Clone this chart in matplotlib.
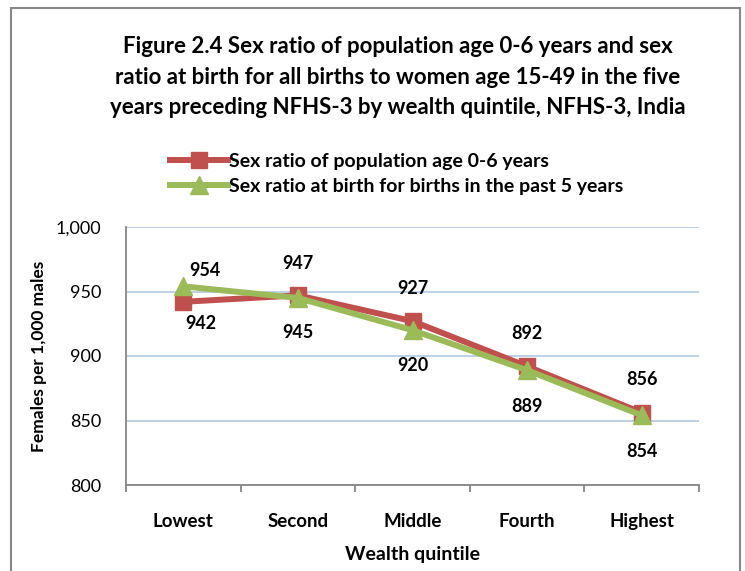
import matplotlib
matplotlib.use("Agg")
import matplotlib.pyplot as plt
from matplotlib.patches import Rectangle

categories = ["Lowest", "Second", "Middle", "Fourth", "Highest"]
pop_0_6 = [942, 947, 927, 892, 856]
at_birth = [954, 945, 920, 889, 854]
series_names = ["Sex ratio of population age 0-6 years",
                "Sex ratio at birth for births in the past 5 years"]
yticks = [800, 850, 900, 950, 1000]
ytick_labels = ["800", "850", "900", "950", "1,000"]

plt.rcParams['font.family'] = ['Lato', 'DejaVu Sans']

W, H = 745, 571
fig = plt.figure(figsize=(W / 100, H / 100), dpi=100)

# chart area border
fig.patches.append(Rectangle((11 / W, 1 - 575 / H), (740 - 11) / W, (575 - 8) / H,
                             transform=fig.transFigure, fill=False,
                             edgecolor="#878787", linewidth=1.5))

ax = fig.add_axes([126 / W, 1 - 485 / H, (699 - 126) / W, (485 - 227) / H])

red = "#C0504D"
green = "#9BBB59"
x = list(range(len(categories)))
ax.plot(x, pop_0_6, color=red, lw=4.3, marker="s", ms=12, zorder=3,
        label=series_names[0])
ax.plot(x, at_birth, color=green, lw=4.3, marker="^", ms=13, zorder=4,
        label=series_names[1])

ax.set_xlim(-0.5, len(categories) - 0.5)
ax.set_ylim(800, 1000)
ax.set_yticks(yticks)
ax.set_yticklabels(ytick_labels, fontsize=13)
ax.yaxis.grid(True, color="#B9CDE5", lw=1.3)
ax.set_axisbelow(True)
ax.tick_params(axis="y", length=0, pad=18)

ax.set_xticks([i - 0.5 for i in range(len(categories) + 1)], minor=False)
ax.set_xticklabels([])
ax.set_xticks(x, minor=True)
ax.set_xticklabels(categories, minor=True, fontsize=13.5, fontweight="bold")
ax.tick_params(axis="x", which="major", length=5, color="#868686", width=1.3)
ax.tick_params(axis="x", which="minor", length=0, pad=20)

for s in ["top", "right"]:
    ax.spines[s].set_visible(False)
for s in ["left", "bottom"]:
    ax.spines[s].set_color("#868686")
    ax.spines[s].set_linewidth(1.3)

ax.set_ylabel("Females per 1,000 males", fontsize=12.5, fontweight="bold", labelpad=6)
ax.set_xlabel("Wealth quintile", fontsize=14, fontweight="bold", labelpad=12)

# data labels
red_off = [(18, -22), (0, 32), (0, 33), (0, 33), (0, 33)]
green_off = [(22, 16), (0, -35), (0, -35), (0, -36), (0, -36)]
for i, v in enumerate(pop_0_6):
    ax.annotate(str(v), (i, v), xytext=(red_off[i][0] * 0.72, red_off[i][1] * 0.72),
                textcoords="offset points", ha="center", va="center",
                fontsize=13, fontweight="bold")
for i, v in enumerate(at_birth):
    ax.annotate(str(v), (i, v), xytext=(green_off[i][0] * 0.72, green_off[i][1] * 0.72),
                textcoords="offset points", ha="center", va="center",
                fontsize=13, fontweight="bold")

fig.text(398 / W, 1 - 77 / H,
         "Figure 2.4 Sex ratio of population age 0-6 years and sex\n"
         "ratio at birth for all births to women age 15-49 in the five\n"
         "years preceding NFHS-3 by wealth quintile, NFHS-3, India",
         ha="center", va="center", fontsize=16, fontweight="bold", linespacing=1.55)

leg = fig.legend(loc="center left", bbox_to_anchor=(170 / W, 1 - 174 / H),
                 frameon=False, fontsize=14, handlelength=3.0, handletextpad=0.05,
                 labelspacing=0.4, borderaxespad=0, borderpad=0)
for t in leg.get_texts():
    t.set_fontweight("bold")

fig.savefig("out.png", dpi=100)
